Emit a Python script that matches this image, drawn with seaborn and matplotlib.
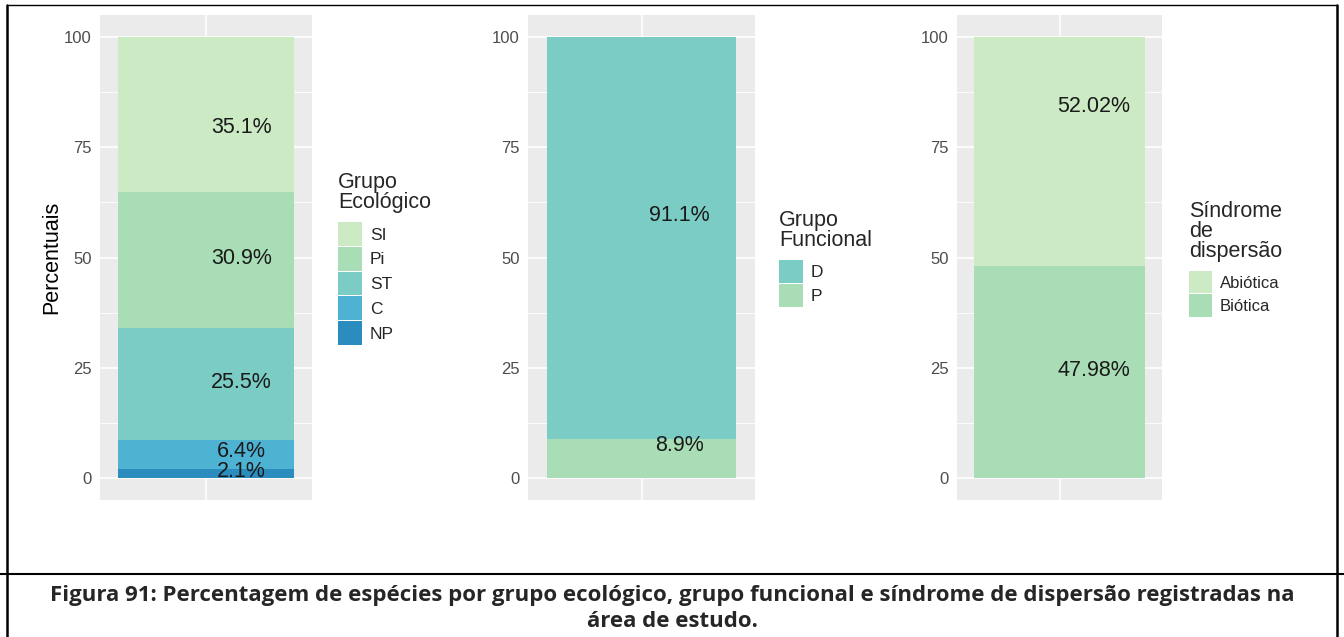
import matplotlib
matplotlib.use("Agg")
import matplotlib.pyplot as plt
from matplotlib.patches import Patch
from matplotlib.lines import Line2D
import seaborn as sns

# ---------------- data ----------------
eco_groups = ["SI", "Pi", "ST", "C", "NP"]
eco_values = [35.1, 30.9, 25.5, 6.4, 2.1]
eco_label_y = [79.5, 49.8, 21.6, 6.1, 1.4]

func_groups = ["D", "P"]
func_values = [91.1, 8.9]
func_label_y = [59.5, 7.3]

disp_groups = ["Abiótica", "Biótica"]
disp_values = [52.02, 47.98]
disp_label_y = [84.3, 24.3]

eco_colors = ["#CCEBC5", "#A8DDB5", "#7BCCC4", "#4EB3D3", "#2B8CBE"]
func_colors = ["#7BCCC4", "#A8DDB5"]
disp_colors = ["#CCEBC5", "#A8DDB5"]

yticks = [0, 25, 50, 75, 100]
caption1 = ("Figura 91: Percentagem de espécies por grupo ecológico, grupo funcional "
            "e síndrome de dispersão registradas na")
caption2 = "área de estudo."

# ---------------- style ----------------
sns.set_theme(style="darkgrid")
plt.rcParams["font.family"] = ["Liberation Sans", "DejaVu Sans"]

W, H = 1344, 637
fig = plt.figure(figsize=(W / 100, H / 100), dpi=100)
fig.patch.set_facecolor("white")


def px_ax(x0, x1, y0, y1):
    return fig.add_axes([x0 / W, 1 - y1 / H, (x1 - x0) / W, (y1 - y0) / H])


def panel(ax, groups, values, colors, label_y):
    n = len(values)
    for i in range(n):
        top = sum(values[i:])
        sns.barplot(x=[""], y=[top], color=colors[i], width=1.0,
                    saturation=1, ax=ax, zorder=2, linewidth=0,
                    edgecolor="none")
    for v, ly in zip(values, label_y):
        ax.text(0.2, ly, f"{v:g}%", ha="center", va="center",
                fontsize=15.5, color="#1a1a1a", zorder=3)
    ax.set_facecolor("#EBEBEB")
    ax.set_xlim(-0.6, 0.6)
    ax.set_ylim(-5, 105)
    ax.set_yticks(yticks)
    ax.set_yticks([12.5, 37.5, 62.5, 87.5], minor=True)
    ax.set_xticks([0])
    ax.set_xticklabels([""])
    ax.grid(which="major", color="white", linewidth=1.2, zorder=0)
    ax.grid(which="minor", color="white", linewidth=0.6, zorder=0)
    ax.set_axisbelow(True)
    for s in ax.spines.values():
        s.set_visible(False)
    ax.tick_params(axis="both", which="major", length=4, width=0.8,
                   color="#333333", labelsize=12, labelcolor="#4D4D4D", pad=2)
    ax.tick_params(which="minor", length=0)
    ax.set_xlabel("")
    ax.set_ylabel("")


ax1 = px_ax(100, 312, 15, 500)
ax2 = px_ax(528, 755, 15, 500)
ax3 = px_ax(957, 1162, 15, 500)

panel(ax1, eco_groups, eco_values, eco_colors, eco_label_y)
panel(ax2, func_groups, func_values, func_colors, func_label_y)
panel(ax3, disp_groups, disp_values, disp_colors, disp_label_y)

ax1.set_ylabel("Percentuais", fontsize=15.5, color="black")
ax1.yaxis.set_label_coords(-0.18, 0.5)


def add_legend(groups, colors, title, x, y, fs, hh):
    handles = [Patch(facecolor=c, edgecolor="none", label=g)
               for g, c in zip(groups, colors)]
    leg = fig.legend(handles=handles, title=title, loc="upper left",
                     bbox_to_anchor=(x / W, 1 - y / H), frameon=False,
                     borderpad=0, borderaxespad=0, fontsize=fs,
                     title_fontsize=15.5,
                     handlelength=1.4, handleheight=hh, labelspacing=0.06,
                     handletextpad=0.45, alignment="left")
    leg.get_title().set_linespacing(0.95)
    try:
        leg._legend_box.sep = 6.5
    except Exception:
        pass
    return leg


add_legend(eco_groups, eco_colors, "Grupo\nEcológico", 338, 172, 12.5, 1.72)
add_legend(func_groups, func_colors, "Grupo\nFuncional", 779, 210, 12.5, 1.66)
add_legend(disp_groups, disp_colors, "Síndrome\nde\ndispersão", 1189, 201, 12, 1.66)

# ---------------- frame and caption ----------------
def hline(y, x0, x1, lw):
    fig.add_artist(Line2D([x0 / W, x1 / W], [1 - y / H, 1 - y / H],
                          transform=fig.transFigure, color="black", lw=lw))


def vline(x, y0, y1, lw):
    fig.add_artist(Line2D([x / W, x / W], [1 - y0 / H, 1 - y1 / H],
                          transform=fig.transFigure, color="black", lw=lw))


hline(5, 7, 1337, 1.0)
hline(574, 0, W, 1.5)
vline(7, 5, H, 1.8)
vline(1337, 5, H, 1.8)

fig.text(0.5, 1 - 601 / H, caption1, ha="center", va="baseline",
         fontsize=16, fontweight="bold", family="Open Sans")
fig.text(0.5, 1 - 627 / H, caption2, ha="center", va="baseline",
         fontsize=16, fontweight="bold", family="Open Sans")

fig.savefig("out.png", dpi=100, facecolor="white")
